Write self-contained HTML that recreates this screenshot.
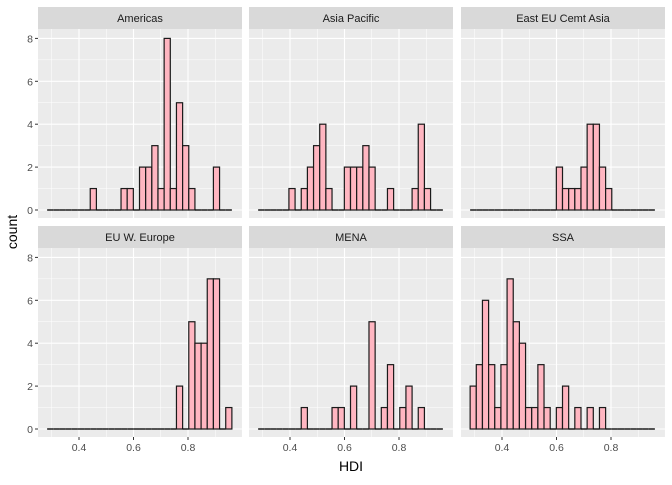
<!DOCTYPE html>
<html><head><meta charset="utf-8"><style>
body{margin:0;background:#fff;font-family:"Liberation Sans",sans-serif}
</style></head><body>
<svg id="chart" width="672" height="480" xmlns="http://www.w3.org/2000/svg" font-family="Liberation Sans, sans-serif"></svg>
<script>
const panelNames = ["Americas","Asia Pacific","East EU Cemt Asia","EU W. Europe","MENA","SSA"];
const americas = [0,0,0,0,0,0,0,1,0,0,0,0,1,1,0,2,2,3,1,8,1,5,3,1,0,0,0,2,0,0];
const asiaPacific = [0,0,0,0,0,1,0,1,2,3,4,1,0,0,2,2,2,3,2,0,0,1,0,0,0,1,4,1,0,0];
const eastEu = [0,0,0,0,0,0,0,0,0,0,0,0,0,0,2,1,1,1,2,4,4,2,1,0,0,0,0,0,0,0];
const euWest = [0,0,0,0,0,0,0,0,0,0,0,0,0,0,0,0,0,0,0,0,0,2,0,5,4,4,7,7,0,1];
const mena = [0,0,0,0,0,0,0,1,0,0,0,0,1,1,0,2,0,0,5,0,1,3,0,1,2,0,1,0,0,0];
const ssa = [2,3,6,3,1,3,7,5,4,1,1,3,1,0,1,2,0,1,0,1,0,1,0,0,0,0,0,0,0,0];
const binStart = 0.283, binWidth = 0.0226;
const xTicks = [0.4,0.6,0.8];
const yTicks = [0,2,4,6,8];
const series = [americas,asiaPacific,eastEu,euWest,mena,ssa];

const svg = document.getElementById('chart');
const NS = "http://www.w3.org/2000/svg";
function mk(tag, attrs, parent){const e=document.createElementNS(NS,tag);for(const k in attrs)e.setAttribute(k,attrs[k]);(parent||svg).appendChild(e);return e;}
const lefts=[38,249,461], tops=[7,226], pw=204, stripH=22, ph=189, x0=0.2495, kx=272.5, ky=21.45;
panelNames.forEach((name,i)=>{
  const col=i%3,row=Math.floor(i/3);
  const L=lefts[col], T=tops[row], PT=T+stripH, base=PT+181;
  const X=v=>L+(v-x0)*kx, Y=c=>base-c*ky;
  const g=mk('g',{});
  
  
  const strip=mk('rect',{x:L,y:T,width:pw,height:stripH,fill:'#D9D9D9'},g);
  
  
  const st=mk('text',{x:L+pw/2,y:T+15,'text-anchor':'middle','font-size':11,fill:'#1A1A1A'},g);
  st.textContent=name;
  
  
  const bg=mk('rect',{x:L,y:PT,width:pw,height:ph,fill:'#EBEBEB'},g);
  
  
  for(let v=0.3;v<1.0;v+=0.1){const major=Math.abs(v*10-Math.round(v*10))<1e-6&&Math.round(v*10)%2===0;mk('line',{x1:X(v),x2:X(v),y1:PT,y2:PT+ph,stroke:'#fff','stroke-width':major?1.1:0.5},g);}
  for(let c=0;c<=9;c++){if(Y(c)<PT)break;mk('line',{x1:L,x2:L+pw,y1:Y(c),y2:Y(c),stroke:'#fff','stroke-width':c%2?0.5:1.1},g);}
  series[i].forEach((c,b)=>{
    const xa=X(binStart+b*binWidth), xb=X(binStart+(b+1)*binWidth);
    const r=mk('rect',{x:xa,y:Y(c),width:xb-xa,height:c*ky,fill:'#FFB6C1',stroke:'#1a1a1a','stroke-width':c?1.2:0},g);
    
    
    if(!c) mk('line',{x1:xa,x2:xb,y1:base,y2:base,stroke:'#000','stroke-width':1.3},g);
  });
  if(col===0){yTicks.forEach(t=>{mk('line',{x1:L-3,x2:L,y1:Y(t),y2:Y(t),stroke:'#333'},g);const tt=mk('text',{x:L-5,y:Y(t)+4,'text-anchor':'end','font-size':10.5,fill:'#4D4D4D'},g);tt.textContent=t;});}
  if(row===1){xTicks.forEach(t=>{mk('line',{x1:X(t),x2:X(t),y1:PT+ph,y2:PT+ph+3,stroke:'#333'},g);const tt=mk('text',{x:X(t),y:PT+ph+14,'text-anchor':'middle','font-size':10.5,fill:'#4D4D4D'},g);tt.textContent=t.toFixed(1);});}
});
const xl=mk('text',{x:351,y:471,'text-anchor':'middle','font-size':14,fill:'#000'});
xl.textContent='HDI';


const yl=mk('text',{x:0,y:0,'text-anchor':'middle','font-size':14,fill:'#000',transform:'translate(17,232) rotate(-90)'});
yl.textContent='count';


</script>
</body></html>
